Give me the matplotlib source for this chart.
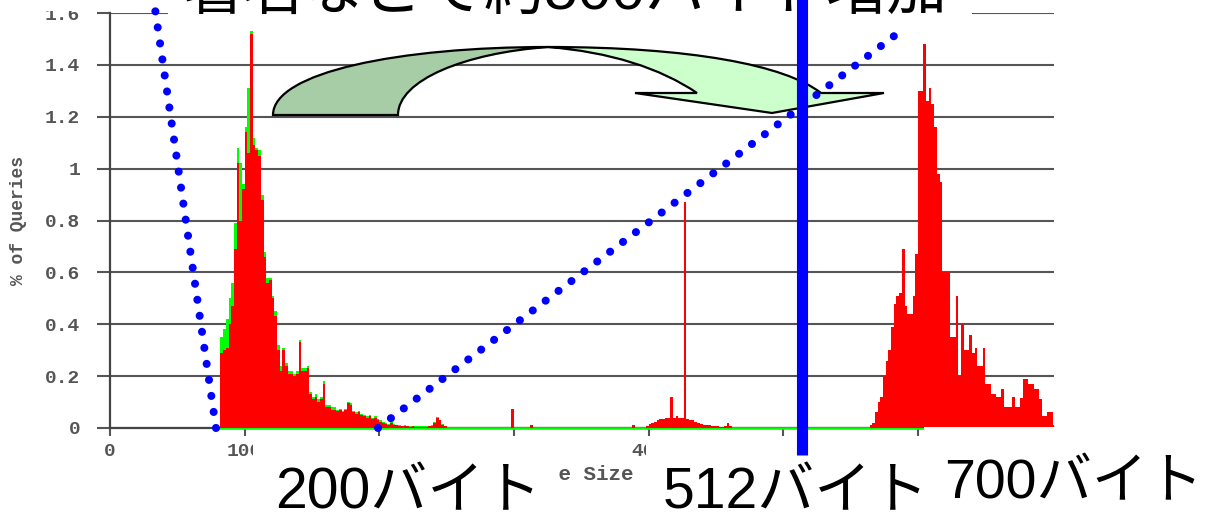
import matplotlib
matplotlib.use('Agg')
import matplotlib.pyplot as plt
from matplotlib.patches import Rectangle, PathPatch
from matplotlib.path import Path
import numpy as np

# ---- data: % of queries per 2-byte size bin ----
bin_w = 2

left_start = 82
left_red = [0.29, 0.30, 0.31, 0.40, 0.47, 0.69, 1.02, 0.80, 0.92, 1.14,
            1.06, 1.52, 1.09, 1.07, 1.05, 0.88, 0.66, 0.56, 0.57, 0.50,
            0.43, 0.30, 0.22, 0.30, 0.24, 0.21, 0.21, 0.20, 0.21, 0.33,
            0.22, 0.22, 0.23, 0.13, 0.11, 0.12, 0.10, 0.11, 0.17, 0.08,
            0.08, 0.07, 0.07, 0.065, 0.07, 0.06, 0.07, 0.095, 0.09, 0.06,
            0.055, 0.06, 0.05, 0.045, 0.04, 0.045, 0.035, 0.04, 0.03, 0.025,
            0.02, 0.015, 0.012, 0.02, 0.012, 0.01, 0.008, 0.006, 0.008, 0.006,
            0.005, 0.006, 0.005, 0.004, 0.005, 0.004, 0.005, 0.006, 0.008, 0.02,
            0.04, 0.03, 0.012, 0.006]
left_green = [0.35, 0.38, 0.42, 0.50, 0.56, 0.79, 1.08, 1.02, 0.94, 1.16,
              1.31, 1.53, 1.12, 1.08, 1.07, 0.90, 0.68, 0.58, 0.58, 0.51,
              0.45, 0.32, 0.24, 0.31, 0.25, 0.22, 0.22, 0.21, 0.22, 0.34,
              0.23, 0.23, 0.24, 0.14, 0.12, 0.13, 0.11, 0.12, 0.18, 0.09,
              0.09, 0.08, 0.08, 0.07, 0.075, 0.065, 0.075, 0.10, 0.095, 0.065,
              0.06, 0.065, 0.055, 0.05, 0.045, 0.05, 0.04, 0.045, 0.035, 0.03,
              0.025, 0.02, 0.015, 0.022, 0.015, 0.012, 0.01, 0.008, 0.01, 0.008,
              0.007, 0.008, 0.007, 0.006, 0.007, 0.006, 0.007, 0.008, 0.01, 0.022,
              0.042, 0.032, 0.014, 0.008]

mid_start = 398
mid_red = [0.008, 0.015, 0.02, 0.025, 0.03, 0.035, 0.035, 0.04, 0.04, 0.12,
           0.04, 0.045, 0.04, 0.04, 0.87, 0.035, 0.03, 0.03, 0.025, 0.02,
           0.015, 0.012, 0.01, 0.01, 0.008, 0.008, 0.006, 0.005, 0.004, 0.006,
           0.018, 0.008]

right_start = 564
right_red = [0.01, 0.02, 0.06, 0.10, 0.12, 0.20, 0.26, 0.30, 0.39, 0.48,
             0.51, 0.52, 0.69, 0.47, 0.44, 0.44, 0.51, 0.67, 1.30, 1.30,
             1.48, 1.26, 1.31, 1.25, 1.16, 0.98, 0.95, 0.60, 0.60, 0.60,
             0.35, 0.35, 0.51, 0.20, 0.40, 0.30, 0.30, 0.36, 0.29, 0.31,
             0.24, 0.24, 0.31, 0.17, 0.17, 0.13, 0.13, 0.12, 0.12, 0.15,
             0.08, 0.08, 0.08, 0.12, 0.08, 0.08, 0.115, 0.19, 0.19, 0.17,
             0.17, 0.15, 0.15, 0.11, 0.045, 0.045, 0.06, 0.06, 0.01]

# single small bins between the clusters
spike_pos = [298, 312, 388]
spike_val = [0.075, 0.012, 0.01]

xticks = [0, 100, 200, 300, 400, 500, 600, 700]
yticks = [0, 0.2, 0.4, 0.6, 0.8, 1.0, 1.2, 1.4, 1.6]
ytick_labels = ['0', '0.2', '0.4', '0.6', '0.8', '1', '1.2', '1.4', '1.6']

top_note = '署名などで約500バイト増加'
size_labels = ['200バイト', '512バイト', '700バイト']

# ---- build the bin arrays ----
edges = np.arange(80, 704, bin_w)
red = np.zeros(len(edges) - 1)
green = np.zeros(len(edges) - 1)


def put(arr, start, vals):
    i = (start - edges[0]) // bin_w
    arr[i:i + len(vals)] = vals


put(red, left_start, left_red)
put(green, left_start, left_green)
put(red, mid_start, mid_red)
put(green, mid_start, mid_red)
put(red, right_start, right_red)
put(green, right_start, right_red)
for p, v in zip(spike_pos, spike_val):
    put(red, p, [v])
    put(green, p, [v])

# ---- figure ----
fig = plt.figure(figsize=(12.2, 5.19), dpi=100)
ax = fig.add_axes([110 / 1220, 1 - 428 / 519, 944 / 1220, 415 / 519])

mono = dict(family='Liberation Mono', weight='bold', color='#555555')

ax.set_xlim(0, 701)
ax.set_ylim(0, 1.6)
ax.yaxis.grid(True, color='#555555', linewidth=1.5)
ax.set_axisbelow(True)

ax.stairs(green, edges, fill=True, color='#00ff00', linewidth=1.6, zorder=3)
# green baseline of the histogram
ax.plot([left_start, edges[-1]], [0, 0], color='#00ff00', linewidth=1.8,
        zorder=3.2, clip_on=False)
ax.stairs(red, edges, fill=True, color='#ff0000', linewidth=0, zorder=3.5)

ax.set_xticks(xticks)
ax.set_xticklabels([str(t) for t in xticks], fontsize=14, **mono)
ax.set_yticks(yticks)
ax.set_yticklabels(ytick_labels, fontsize=14, **mono)
ax.tick_params(axis='y', length=9.5, width=1.5, color='#555555', pad=12)
ax.tick_params(axis='x', length=6, width=1.5, color='#555555', pad=5)

for s in ['top', 'right']:
    ax.spines[s].set_visible(False)
for s in ['left', 'bottom']:
    ax.spines[s].set_color('#444444')
    ax.spines[s].set_linewidth(1.6)

ax.set_ylabel('% of Queries', fontsize=13, **mono)
ax.yaxis.set_label_coords(-0.088, 0.5)
ax.set_xlabel('Response Size', fontsize=15, **mono)
ax.xaxis.set_label_coords(0.469, -0.09)
ax.xaxis.label.set_va('top')

# ---- overlay in pixel coordinates ----
ov = fig.add_axes([0, 0, 1, 1], zorder=10)
ov.set_xlim(0, 1220)
ov.set_ylim(519, 0)
ov.axis('off')

# white text boxes (and the cropped top edge over the 1.6 label)
for (x0, y0, w, h) in [(168, -5, 804, 21), (0, -5, 95, 16), (253, 438, 306, 90),
                       (646, 437, 280, 90), (924, 427, 300, 100)]:
    ov.add_patch(Rectangle((x0, y0), w, h, facecolor='white', edgecolor='none'))

# curved green arrow
C4 = Path.CURVE4
dark = Path([(273, 115), (273, 72), (400, 47), (548, 47),
             (465, 53), (398, 80), (398, 115), (273, 115)],
            [Path.MOVETO, C4, C4, C4, C4, C4, C4, Path.CLOSEPOLY])
light = Path([(548, 47), (690, 47), (785, 65), (821, 93),
              (884, 93), (772, 113), (635, 93), (697, 93),
              (660, 68), (610, 52), (548, 47)],
             [Path.MOVETO, C4, C4, C4, Path.LINETO, Path.LINETO,
              Path.LINETO, Path.LINETO, C4, C4, C4])
ov.add_patch(PathPatch(dark, facecolor='#a6cda6', edgecolor='black', linewidth=1.6))
ov.add_patch(PathPatch(light, facecolor='#ccffcc', edgecolor='black', linewidth=1.6))

# blue dotted guide lines
dots = dict(color='#0000ff', linewidth=5.8, linestyle=(0, (0.01, 2.0)),
            dash_capstyle='round')
ov.plot([216, 153], [428, -5], **dots)
ov.plot([378, 902], [428, 30], **dots)

# 512-byte marker
ov.plot([802, 802], [-5, 455], color='#0000ff', linewidth=8, solid_capstyle='butt')

jp = ['Liberation Sans', 'Noto Sans CJK JP']
ov.text(565, 9, top_note, fontsize=43.5, family=jp, ha='center', va='baseline')
ov.text(275, 508, size_labels[0], fontsize=41, family=jp, ha='left', va='baseline')
ov.text(663, 508, size_labels[1], fontsize=41, family=jp, ha='left', va='baseline')
ov.text(944, 498, size_labels[2], fontsize=40, family=jp, ha='left', va='baseline')

fig.savefig('out.png', dpi=100)
